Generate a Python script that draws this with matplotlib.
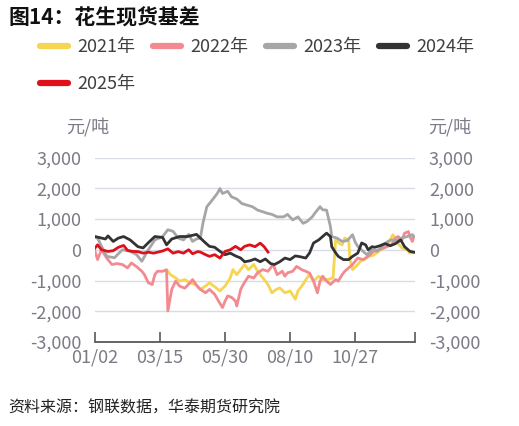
import matplotlib.pyplot as plt
from matplotlib.ticker import FuncFormatter

plt.rcParams['font.family'] = ['Noto Sans CJK SC', 'DejaVu Sans']

# 交易日序号 / 基差 (元/吨)
d2021 = [56, 58, 62, 65, 69, 73, 77, 81, 85, 88, 92, 96, 100, 104, 106, 109, 113, 115, 118, 122,
         125, 129, 133, 136, 139, 142, 146, 150, 154, 156, 159, 163, 165, 168, 172, 175, 179, 183,
         185, 188, 190, 192, 195, 196, 198, 202, 204, 208, 210, 214, 218, 222, 225, 229, 232, 236,
         240, 242, 245]
v2021 = [-700, -810, -915, -1020, -970, -1075, -1130, -1290, -1180, -1075, -1200, -1340, -1180,
         -915, -645, -810, -590, -480, -650, -480, -700, -915, -1130, -1400, -1300, -1240, -1400,
         -1340, -1610, -1340, -1180, -915, -810, -1020, -860, -970, -970, -915, 320, 200, 160, 380,
         320, -320, -645, -480, -375, -300, -215, -180, -55, 55, 160, 490, 250, 55, 0, -110, -80]

d2022 = [0, 2, 4, 5, 9, 13, 17, 21, 25, 28, 32, 36, 38, 41, 44, 46, 48, 52, 55, 56, 59, 62, 65,
         69, 73, 75, 78, 81, 85, 88, 92, 95, 98, 100, 102, 105, 108, 109, 112, 114, 118, 122, 125,
         129, 133, 137, 140, 144, 146, 148, 152, 155, 159, 162, 165, 168, 171, 173, 175, 178, 181,
         185, 187, 190, 192, 195, 198, 202, 206, 210, 214, 218, 222, 225, 228, 231, 233, 236, 238,
         241, 242, 244, 245]
v2022 = [-50, -320, -100, 0, -270, -480, -450, -480, -590, -430, -550, -700, -810, -1075, -1130,
         -810, -700, -700, -650, -1990, -1290, -1020, -1180, -1250, -1075, -970, -1150, -1290,
         -1400, -1290, -1450, -1670, -1880, -1670, -1500, -1550, -1670, -1830, -1290, -1130, -860,
         -920, -750, -645, -700, -480, -810, -700, -860, -750, -700, -540, -650, -700, -760, -1020,
         -1400, -1020, -860, -1020, -1130, -970, -1020, -810, -700, -590, -480, -270, -320, -215,
         -55, 0, 55, 110, 160, 380, 430, 320, 540, 590, 430, 270, 430]

d2023 = [0, 2, 4, 9, 15, 21, 27, 32, 36, 41, 46, 52, 56, 60, 64, 68, 72, 75, 78, 81, 83, 86, 90,
         94, 96, 98, 102, 105, 109, 113, 117, 121, 125, 128, 132, 136, 140, 145, 148, 152, 156,
         160, 163, 167, 169, 173, 175, 178, 181, 182, 186, 190, 194, 198, 200, 202, 206, 209, 213,
         217, 221, 225, 228, 232, 236, 240, 244, 245]
v2023 = [400, 380, 200, -215, -260, 0, -50, -160, -375, 0, 320, 430, 650, 600, 380, 320, 500, 270,
         350, 380, 870, 1400, 1610, 1830, 1990, 1830, 1900, 1720, 1650, 1500, 1450, 1400, 1290,
         1250, 1190, 1150, 1070, 1070, 1150, 970, 1070, 860, 920, 1070, 1190, 1400, 1300, 1290,
         750, 430, 380, 270, 300, 490, 250, 110, -50, -160, 0, -50, 110, 270, 320, 300, 380, 430,
         490, 430]

d2024 = [0, 4, 8, 10, 14, 18, 22, 27, 33, 37, 41, 46, 52, 55, 59, 65, 71, 78, 81, 85, 88, 92, 96,
         100, 104, 108, 112, 115, 119, 123, 127, 131, 135, 138, 142, 146, 150, 154, 158, 162, 165,
         168, 172, 175, 178, 181, 182, 185, 187, 191, 195, 198, 202, 205, 208, 210, 213, 215, 219,
         223, 227, 231, 235, 238, 242, 245]
v2024 = [430, 390, 350, 450, 270, 380, 430, 320, 100, 60, 230, 430, 400, 160, 350, 430, 430, 500,
         380, 220, 110, 80, -50, -160, -110, -200, -270, -390, -360, -300, -390, -300, -450, -480,
         -390, -270, -320, -200, -230, -270, -100, 220, 320, 430, 540, 430, 100, -100, -215, -320,
         -320, -215, -110, 220, 160, 0, 100, 80, 130, 200, 130, 200, 320, 100, -50, -80]

d2025 = [0, 2, 5, 10, 14, 18, 22, 25, 29, 33, 37, 41, 45, 48, 52, 56, 60, 64, 68, 72, 75, 79, 81,
         85, 88, 92, 96, 100, 104, 108, 112, 115, 119, 123, 127, 130, 133]
v2025 = [55, 160, 0, -55, -30, 80, 140, -20, -55, -60, -110, -80, -110, -80, -40, 30, -110, -60,
         -110, 0, -130, -60, -75, -160, -215, -160, -270, -55, 0, 110, 0, 110, 160, 100, 215, 100,
         -75]

tick_pos = [0, 50, 100, 150, 200, 246]
tick_lab = ['01/02', '03/15', '05/30', '08/10', '10/27', '']

fig = plt.figure(figsize=(5.19, 4.26), dpi=100)
ax = fig.add_axes([95 / 519, 1 - 342 / 426, 320 / 519, 184.5 / 426])

series = [
    ('2021年', d2021, v2021, '#f5d551'),
    ('2022年', d2022, v2022, '#f38a92'),
    ('2023年', d2023, v2023, '#a6a6a6'),
    ('2024年', d2024, v2024, '#333333'),
    ('2025年', d2025, v2025, '#e0101b'),
]
lines = {}
for name, d, v, c in series:
    ln, = ax.plot(d, v, color=c, lw=2.0, label=name, solid_joinstyle='round')
    lines[name] = ln

ax.set_xlim(0, 246)
ax.set_ylim(-3000, 3000)
ax.set_yticks(range(-3000, 3001, 1000))
ax.yaxis.set_major_formatter(FuncFormatter(lambda v, p: f'{v:,.0f}'.replace('−', '-')))
ax.set_xticks(tick_pos)
ax.set_xticklabels(tick_lab)

for s in ['top', 'left', 'right']:
    ax.spines[s].set_visible(False)
ax.spines['bottom'].set_color('#595959')
ax.spines['bottom'].set_linewidth(1.3)
ax.grid(axis='y', color='#d8dce8', lw=1)
ax.set_axisbelow(True)

ax.tick_params(axis='y', length=0, labelsize=13, labelcolor='#7b7b86', pad=10,
               labelleft=True, labelright=True)
ax.tick_params(axis='x', direction='in', length=7, width=1.2, color='#595959',
               labelsize=13, labelcolor='#7b7b86', pad=5)

order = ['2021年', '2025年', '2022年', '2023年', '2024年']
leg = fig.legend([lines[k] for k in order], order, loc='upper left',
                 bbox_to_anchor=(40 / 519, 1 - 38 / 426), ncol=4, frameon=False,
                 fontsize=13, handlelength=1.55, handletextpad=0.5, columnspacing=1.0,
                 labelspacing=1.05, borderpad=0, borderaxespad=0)
for t in leg.get_texts():
    t.set_color('#404040')
for h in leg.legend_handles:
    h.set_linewidth(4.5)
    h.set_solid_capstyle('round')

fig.text(8 / 519, 1 - 18 / 426, '图14：花生现货基差', fontsize=15, fontweight='bold',
         va='center', ha='left', color='#111111')
fig.text(66 / 519, 1 - 127 / 426, '元/吨', fontsize=13, color='#7b7b86', va='center')
fig.text(428 / 519, 1 - 127 / 426, '元/吨', fontsize=13, color='#7b7b86', va='center')
fig.text(8 / 519, 1 - 408 / 426, '资料来源：钢联数据，华泰期货研究院', fontsize=11.5,
         style='italic', color='#222222', va='center')

fig.savefig('out.png', dpi=100)
